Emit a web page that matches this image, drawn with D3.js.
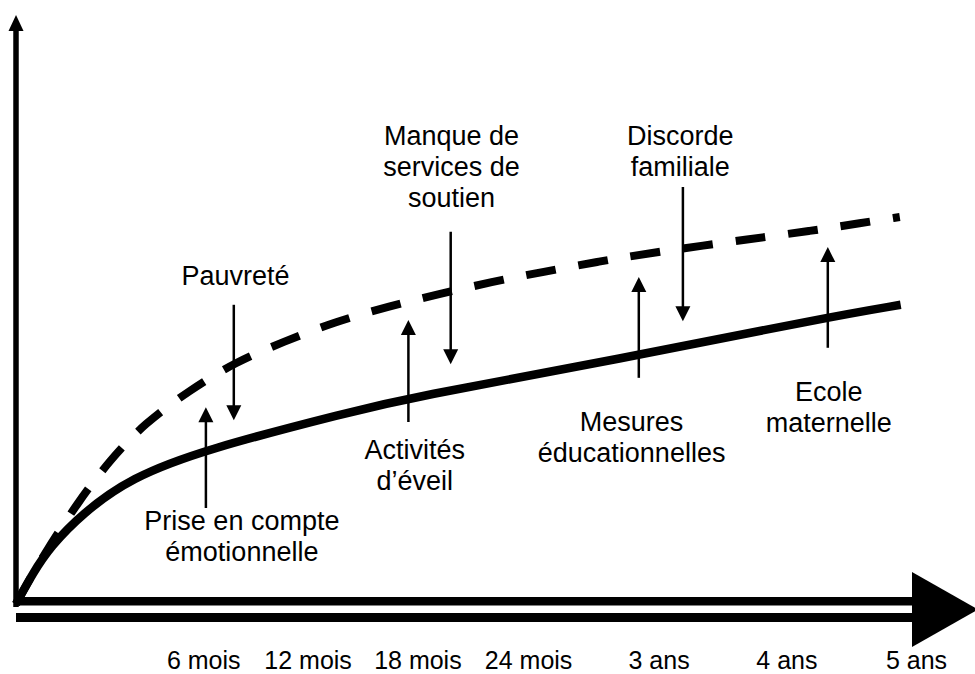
<!DOCTYPE html>
<html>
  <head>
    <meta charset="utf-8">
    <title>Développement de l'enfant</title>
    <script src="https://cdn.jsdelivr.net/npm/d3@7"></script>
    <style>
      body { margin: 0; background: #fff; overflow: hidden; }
      text { font-family: "Liberation Sans", Arial, sans-serif; fill: #000; }
    </style>
  </head>
  <body>
    <div id="chart"></div>
    <script>
      // x axis: schematic age (0 = origin, 100 = 5 ans), y: schematic level
      var xTicks = [20.8, 32.4, 44.6, 56.9, 71.4, 85.6, 100];
      var xTickLabels = ["6 mois", "12 mois", "18 mois", "24 mois", "3 ans", "4 ans", "5 ans"];

      // solid curve (actual development)
      var solidX = [0, 1.9, 3.8, 7.4, 12.7, 21.1, 37.1, 43.6, 67.1, 90.2, 98.3];
      var solidY = [0, 5.3, 9.7, 15.4, 21.4, 26.3, 32.6, 35.0, 41.6, 48.7, 50.8];

      // dashed curve (potential development)
      var dashedX = [0, 1.9, 3.8, 6.8, 10.4, 14.3, 19.3, 24.4, 29.7, 35.4, 41.6, 46.9, 52.9, 58.6, 64.6, 70.4, 82.2, 88.1, 94.0, 98.2];
      var dashedY = [0, 5.3, 10.0, 17.1, 24.4, 30.7, 36.3, 41.1, 44.5, 47.9, 50.6, 52.6, 54.7, 56.4, 58.1, 59.6, 62.1, 63.3, 64.7, 65.7];

      // factors: arrow x, start level, end level
      var factorX = [24.2, 21.1, 43.6, 48.3, 69.2, 74.1, 90.2];
      var factorFrom = [50.8, 16.3, 30.9, 63.2, 38.4, 70.8, 43.5];
      var factorTo = [31.2, 33.4, 48.2, 40.7, 55.5, 48.0, 60.6];

      // labels of the factors
      var labelLines = [
        ["Pauvreté"],
        ["Prise en compte", "émotionnelle"],
        ["Activités", "d’éveil"],
        ["Manque de", "services de", "soutien"],
        ["Mesures", "éducationnelles"],
        ["Discorde", "familiale"],
        ["Ecole", "maternelle"]
      ];
      var labelX = [24.4, 25.1, 44.3, 48.4, 68.4, 73.8, 90.3];
      var labelY = [54.2, 12.6, 24.6, 77.9, 29.4, 77.9, 34.5];

      var W = 975, H = 674;
      var margin = {left: 16, right: 59, top: 15, bottom: 70};

      var x = d3.scaleLinear().domain([0, 100]).range([margin.left, W - margin.right]);
      var y = d3.scaleLinear().domain([0, 100]).range([H - margin.bottom, margin.top]);

      var svg = d3.select("#chart").append("svg")
        .attr("width", W)
        .attr("height", H)
        .style("display", "block");

      var x0 = x(0), y0 = y(0);

      // y axis with arrow head
      svg.append("line")
        .attr("x1", x0).attr("x2", x0)
        .attr("y1", y0 + 3).attr("y2", y(100) + 12)
        .attr("stroke", "#000").attr("stroke-width", 5.5);
      svg.append("path")
        .attr("d", d3.line()([[x0 - 7.5, y(100) + 16], [x0, y(100)], [x0 + 7.5, y(100) + 16]]) + "Z")
        .attr("fill", "#000");

      // x axis: double bar with a big arrow head
      var xEnd = 912;
      svg.append("rect")
        .attr("x", x0 + 1).attr("y", y0 - 7)
        .attr("width", xEnd - x0 - 1).attr("height", 8.5)
        .attr("fill", "#000");
      svg.append("rect")
        .attr("x", x0).attr("y", y0 + 9)
        .attr("width", xEnd - x0).attr("height", 9)
        .attr("fill", "#000");
      svg.append("path")
        .attr("d", d3.line()([[xEnd, y0 - 32], [978, y0 + 5.5], [xEnd, y0 + 43]]) + "Z")
        .attr("fill", "#000");

      var xAxis = svg.append("g")
        .attr("transform", "translate(0," + y0 + ")")
        .call(d3.axisBottom(x)
          .tickValues(xTicks)
          .tickFormat(function(d, i) { return xTickLabels[i]; })
          .tickSize(0)
          .tickPadding(47));
      xAxis.select(".domain").remove();
      xAxis.selectAll("text")
        .style("font-family", '"Liberation Sans", Arial, sans-serif')
        .style("font-size", "25px")
        .attr("fill", "#000");

      // curves
      var line = d3.line()
        .x(function(d) { return x(d[0]); })
        .y(function(d) { return y(d[1]); })
        .curve(d3.curveBasis);

      svg.append("path")
        .datum(dashedX.map(function(v, i) { return [v, dashedY[i]]; }))
        .attr("d", line)
        .attr("fill", "none")
        .attr("stroke", "#000")
        .attr("stroke-width", 8)
        .attr("stroke-dasharray", "30 23");

      svg.append("path")
        .datum(solidX.map(function(v, i) { return [v, solidY[i]]; }))
        .attr("d", line)
        .attr("fill", "none")
        .attr("stroke", "#000")
        .attr("stroke-width", 8.5);

      // factor arrows
      var head = 15;
      factorX.forEach(function(fx, i) {
        var px = x(fx), ya = y(factorFrom[i]), yb = y(factorTo[i]);
        var dir = yb > ya ? 1 : -1;
        svg.append("line")
          .attr("x1", px).attr("x2", px)
          .attr("y1", ya).attr("y2", yb - dir * (head - 2))
          .attr("stroke", "#000").attr("stroke-width", 2.5);
        svg.append("path")
          .attr("d", d3.line()([[px - 7.5, yb - dir * head], [px, yb], [px + 7.5, yb - dir * head]]) + "Z")
          .attr("fill", "#000");
      });

      // labels
      labelLines.forEach(function(lines, i) {
        var t = svg.append("text")
          .attr("text-anchor", "middle")
          .attr("font-size", 27)
          .attr("x", x(labelX[i]))
          .attr("y", y(labelY[i]));
        lines.forEach(function(s, j) {
          t.append("tspan")
            .attr("x", x(labelX[i]))
            .attr("dy", j === 0 ? 0 : 31)
            .text(s);
        });
      });
    </script>
  </body>
</html>
